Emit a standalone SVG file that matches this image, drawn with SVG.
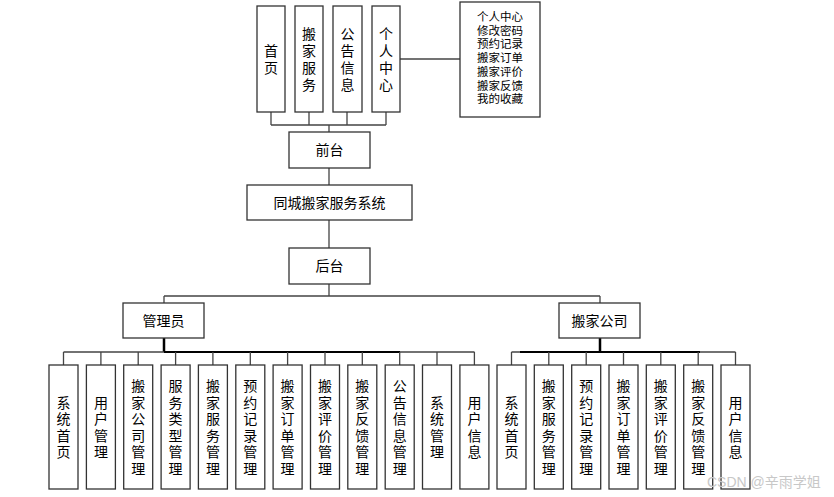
<svg xmlns="http://www.w3.org/2000/svg" width="834" height="497" viewBox="0 0 834 497">
<style>
.b{fill:#fff;stroke:#333;stroke-width:1.3}
.t{font-family:"Liberation Sans","Noto Sans CJK SC",sans-serif;font-size:14px;fill:#000;text-anchor:middle;dominant-baseline:central}
.s{font-size:11.5px}
.c{fill:none;stroke:#444;stroke-width:1.3}
.k{fill:none;stroke:#000;stroke-width:2.5}
</style>
<rect width="834" height="497" fill="#fff"/>
<g id="connectors">
<path class="c" d="M271,112V125M309,112V125M347,112V125M386,112V125M271,125H386M329,125V132"/>
<path class="c" d="M400,59H460"/>
<path class="c" d="M329,168V185M329,220V248M329,284V296M164,296H600M164,296V303M600,296V303"/>
<path class="k" d="M164,338V352M600,338V352"/>
<path class="c" d="M63.5,352H474.5M511.5,352H735.5"/>
<path class="k" d="M164,352H400M520,352H700" style="stroke-width:1.8"/>
<path class="c" d="M63.5,352V365M100.9,352V365M138.2,352V365M175.6,352V365M212.9,352V365M250.3,352V365M287.6,352V365M325,352V365M362.3,352V365M399.7,352V365M437,352V365M474.4,352V365"/>
<path class="c" d="M511.5,352V365M548.8,352V365M586.2,352V365M623.5,352V365M660.8,352V365M698.2,352V365M735.5,352V365"/>
</g>
<g id="n-home"><rect class="b" x="257" y="6" width="28" height="106"/><text class="t"><tspan x="271" y="51">首</tspan><tspan x="271" y="68">页</tspan></text></g>
<g id="n-service"><rect class="b" x="295" y="6" width="28" height="106"/><text class="t"><tspan x="309" y="34">搬</tspan><tspan x="309" y="51">家</tspan><tspan x="309" y="68">服</tspan><tspan x="309" y="85">务</tspan></text></g>
<g id="n-notice"><rect class="b" x="333" y="6" width="29" height="106"/><text class="t"><tspan x="347.5" y="34">公</tspan><tspan x="347.5" y="51">告</tspan><tspan x="347.5" y="68">信</tspan><tspan x="347.5" y="85">息</tspan></text></g>
<g id="n-personal"><rect class="b" x="372" y="6" width="28" height="106"/><text class="t"><tspan x="386" y="34">个</tspan><tspan x="386" y="51">人</tspan><tspan x="386" y="68">中</tspan><tspan x="386" y="85">心</tspan></text></g>
<g id="n-personal-list"><rect class="b" x="460" y="2" width="80" height="115"/><text class="t s"><tspan x="500" y="17">个人中心</tspan><tspan x="500" y="30.7">修改密码</tspan><tspan x="500" y="44.4">预约记录</tspan><tspan x="500" y="58.1">搬家订单</tspan><tspan x="500" y="71.8">搬家评价</tspan><tspan x="500" y="85.5">搬家反馈</tspan><tspan x="500" y="99.2">我的收藏</tspan></text></g>
<g id="n-front"><rect class="b" x="289" y="132" width="81" height="36"/><text class="t" x="329.5" y="150">前台</text></g>
<g id="n-system"><rect class="b" x="247" y="185" width="165" height="35"/><text class="t" x="329.5" y="202.5">同城搬家服务系统</text></g>
<g id="n-back"><rect class="b" x="289" y="248" width="81" height="36"/><text class="t" x="329.5" y="266">后台</text></g>
<g id="n-admin"><rect class="b" x="123" y="303" width="81" height="35"/><text class="t" x="163.5" y="320.5">管理员</text></g>
<g id="n-company"><rect class="b" x="559" y="303" width="81" height="35"/><text class="t" x="599.5" y="320.5">搬家公司</text></g>
<g id="admin-children">
<g id="a1"><rect class="b" x="49" y="365" width="29" height="124"/><text class="t"><tspan x="63.5" y="402.5">系</tspan><tspan x="63.5" y="419">统</tspan><tspan x="63.5" y="435.5">首</tspan><tspan x="63.5" y="452">页</tspan></text></g>
<g id="a2"><rect class="b" x="86.4" y="365" width="29" height="124"/><text class="t"><tspan x="100.9" y="402.5">用</tspan><tspan x="100.9" y="419">户</tspan><tspan x="100.9" y="435.5">管</tspan><tspan x="100.9" y="452">理</tspan></text></g>
<g id="a3"><rect class="b" x="123.7" y="365" width="29" height="124"/><text class="t"><tspan x="138.2" y="386">搬</tspan><tspan x="138.2" y="402.5">家</tspan><tspan x="138.2" y="419">公</tspan><tspan x="138.2" y="435.5">司</tspan><tspan x="138.2" y="452">管</tspan><tspan x="138.2" y="468.5">理</tspan></text></g>
<g id="a4"><rect class="b" x="161.1" y="365" width="29" height="124"/><text class="t"><tspan x="175.6" y="386">服</tspan><tspan x="175.6" y="402.5">务</tspan><tspan x="175.6" y="419">类</tspan><tspan x="175.6" y="435.5">型</tspan><tspan x="175.6" y="452">管</tspan><tspan x="175.6" y="468.5">理</tspan></text></g>
<g id="a5"><rect class="b" x="198.4" y="365" width="29" height="124"/><text class="t"><tspan x="212.9" y="386">搬</tspan><tspan x="212.9" y="402.5">家</tspan><tspan x="212.9" y="419">服</tspan><tspan x="212.9" y="435.5">务</tspan><tspan x="212.9" y="452">管</tspan><tspan x="212.9" y="468.5">理</tspan></text></g>
<g id="a6"><rect class="b" x="235.8" y="365" width="29" height="124"/><text class="t"><tspan x="250.3" y="386">预</tspan><tspan x="250.3" y="402.5">约</tspan><tspan x="250.3" y="419">记</tspan><tspan x="250.3" y="435.5">录</tspan><tspan x="250.3" y="452">管</tspan><tspan x="250.3" y="468.5">理</tspan></text></g>
<g id="a7"><rect class="b" x="273.1" y="365" width="29" height="124"/><text class="t"><tspan x="287.6" y="386">搬</tspan><tspan x="287.6" y="402.5">家</tspan><tspan x="287.6" y="419">订</tspan><tspan x="287.6" y="435.5">单</tspan><tspan x="287.6" y="452">管</tspan><tspan x="287.6" y="468.5">理</tspan></text></g>
<g id="a8"><rect class="b" x="310.5" y="365" width="29" height="124"/><text class="t"><tspan x="325" y="386">搬</tspan><tspan x="325" y="402.5">家</tspan><tspan x="325" y="419">评</tspan><tspan x="325" y="435.5">价</tspan><tspan x="325" y="452">管</tspan><tspan x="325" y="468.5">理</tspan></text></g>
<g id="a9"><rect class="b" x="347.8" y="365" width="29" height="124"/><text class="t"><tspan x="362.3" y="386">搬</tspan><tspan x="362.3" y="402.5">家</tspan><tspan x="362.3" y="419">反</tspan><tspan x="362.3" y="435.5">馈</tspan><tspan x="362.3" y="452">管</tspan><tspan x="362.3" y="468.5">理</tspan></text></g>
<g id="a10"><rect class="b" x="385.2" y="365" width="29" height="124"/><text class="t"><tspan x="399.7" y="386">公</tspan><tspan x="399.7" y="402.5">告</tspan><tspan x="399.7" y="419">信</tspan><tspan x="399.7" y="435.5">息</tspan><tspan x="399.7" y="452">管</tspan><tspan x="399.7" y="468.5">理</tspan></text></g>
<g id="a11"><rect class="b" x="422.5" y="365" width="29" height="124"/><text class="t"><tspan x="437" y="402.5">系</tspan><tspan x="437" y="419">统</tspan><tspan x="437" y="435.5">管</tspan><tspan x="437" y="452">理</tspan></text></g>
<g id="a12"><rect class="b" x="459.9" y="365" width="29" height="124"/><text class="t"><tspan x="474.4" y="402.5">用</tspan><tspan x="474.4" y="419">户</tspan><tspan x="474.4" y="435.5">信</tspan><tspan x="474.4" y="452">息</tspan></text></g>
</g>
<g id="company-children">
<g id="c1"><rect class="b" x="497" y="365" width="29" height="124"/><text class="t"><tspan x="511.5" y="402.5">系</tspan><tspan x="511.5" y="419">统</tspan><tspan x="511.5" y="435.5">首</tspan><tspan x="511.5" y="452">页</tspan></text></g>
<g id="c2"><rect class="b" x="534.3" y="365" width="29" height="124"/><text class="t"><tspan x="548.8" y="386">搬</tspan><tspan x="548.8" y="402.5">家</tspan><tspan x="548.8" y="419">服</tspan><tspan x="548.8" y="435.5">务</tspan><tspan x="548.8" y="452">管</tspan><tspan x="548.8" y="468.5">理</tspan></text></g>
<g id="c3"><rect class="b" x="571.7" y="365" width="29" height="124"/><text class="t"><tspan x="586.2" y="386">预</tspan><tspan x="586.2" y="402.5">约</tspan><tspan x="586.2" y="419">记</tspan><tspan x="586.2" y="435.5">录</tspan><tspan x="586.2" y="452">管</tspan><tspan x="586.2" y="468.5">理</tspan></text></g>
<g id="c4"><rect class="b" x="609" y="365" width="29" height="124"/><text class="t"><tspan x="623.5" y="386">搬</tspan><tspan x="623.5" y="402.5">家</tspan><tspan x="623.5" y="419">订</tspan><tspan x="623.5" y="435.5">单</tspan><tspan x="623.5" y="452">管</tspan><tspan x="623.5" y="468.5">理</tspan></text></g>
<g id="c5"><rect class="b" x="646.3" y="365" width="29" height="124"/><text class="t"><tspan x="660.8" y="386">搬</tspan><tspan x="660.8" y="402.5">家</tspan><tspan x="660.8" y="419">评</tspan><tspan x="660.8" y="435.5">价</tspan><tspan x="660.8" y="452">管</tspan><tspan x="660.8" y="468.5">理</tspan></text></g>
<g id="c6"><rect class="b" x="683.7" y="365" width="29" height="124"/><text class="t"><tspan x="698.2" y="386">搬</tspan><tspan x="698.2" y="402.5">家</tspan><tspan x="698.2" y="419">反</tspan><tspan x="698.2" y="435.5">馈</tspan><tspan x="698.2" y="452">管</tspan><tspan x="698.2" y="468.5">理</tspan></text></g>
<g id="c7"><rect class="b" x="721" y="365" width="29" height="124"/><text class="t"><tspan x="735.5" y="402.5">用</tspan><tspan x="735.5" y="419">户</tspan><tspan x="735.5" y="435.5">信</tspan><tspan x="735.5" y="452">息</tspan></text></g>
</g>
<text x="707" y="487" style="font-family:'Liberation Sans','Noto Sans CJK SC',sans-serif;font-size:14px;fill:#c8c8c8">CSDN @辛雨学姐</text>
</svg>
